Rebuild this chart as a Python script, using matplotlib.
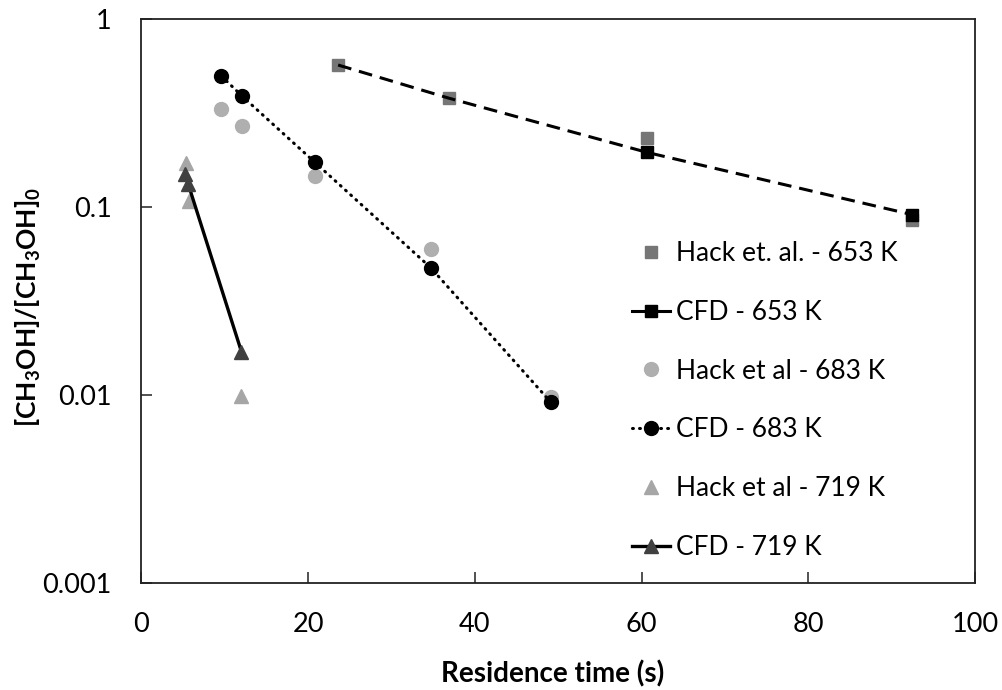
import matplotlib
matplotlib.use("Agg")
import matplotlib.pyplot as plt
from matplotlib.lines import Line2D

plt.rcParams['font.family'] = ['Lato', 'DejaVu Sans']
plt.rcParams['mathtext.fontset'] = 'custom'
plt.rcParams['mathtext.rm'] = 'Lato'
plt.rcParams['mathtext.bf'] = 'Lato:bold'

# Data
hack653_t = [23.6, 36.9, 60.7, 92.5]
hack653_c = [0.569, 0.379, 0.232, 0.0850]
cfd653_t = [23.6, 36.9, 60.7, 92.5]
cfd653_c = [0.569, 0.379, 0.195, 0.0910]

hack683_t = [9.6, 12.1, 20.8, 34.7, 49.1]
hack683_c = [0.331, 0.269, 0.146, 0.0601, 0.00976]
cfd683_t = [9.6, 12.1, 20.8, 34.7, 49.1]
cfd683_c = [0.497, 0.388, 0.173, 0.0476, 0.00918]

hack719_t = [5.3, 5.7, 12.0]
hack719_c = [0.171, 0.108, 0.0099]
cfd719_t = [5.2, 5.6, 12.0]
cfd719_c = [0.149, 0.133, 0.0170]

labels = ["Hack et. al. - 653 K", "CFD - 653 K", "Hack et al - 683 K",
          "CFD - 683 K", "Hack et al - 719 K", "CFD - 719 K"]
xticks = [0, 20, 40, 60, 80, 100]
yticks = [0.001, 0.01, 0.1, 1]
yticklabels = ["0.001", "0.01", "0.1", "1"]

fig = plt.figure(figsize=(10.03, 6.9), dpi=100)
ax = fig.add_axes([0.141, 0.155, 0.831, 0.8175])

h1, = ax.plot(hack653_t, hack653_c, ls='none', marker='s', ms=9, color='#767676', zorder=3)
h2, = ax.plot(cfd653_t, cfd653_c, ls=(0, (4.5, 2.6)), lw=2.2, marker='s', ms=9,
              color='black', markevery=[2, 3], zorder=4)
h3, = ax.plot(hack683_t, hack683_c, ls='none', marker='o', ms=10, color='#AFAFAF', zorder=3)
h4, = ax.plot(cfd683_t, cfd683_c, ls=(0, (0.3, 2.0)), lw=2.2, dash_capstyle='round',
              marker='o', ms=10, color='black', zorder=4)
h5, = ax.plot(hack719_t, hack719_c, ls='none', marker='^', ms=10, color='#A6A6A6', zorder=3)
h6, = ax.plot(cfd719_t, cfd719_c, ls='-', lw=2.4, marker='^', ms=10, color='black',
              mfc='#404040', mec='#404040', zorder=4)

ax.set_yscale('log')
ax.set_xlim(0, 100)
ax.set_ylim(0.001, 1)
ax.set_xticks(xticks)
ax.set_xticklabels([str(t) for t in xticks])
ax.set_yticks(yticks)
ax.set_yticklabels(yticklabels)
ax.minorticks_off()
ax.tick_params(axis='both', direction='in', length=8, width=1.2, labelsize=19.5,
               color='#333333', labelcolor='black')
ax.tick_params(axis='x', pad=21)
ax.tick_params(axis='y', pad=21.5)
for s in ax.spines.values():
    s.set_linewidth(1.3)
    s.set_color('#222222')

ax.set_xlabel("Residence time (s)", fontsize=20, fontweight='bold')
ax.xaxis.set_label_coords(0.493, -0.161)
ax.xaxis.label.set_va('center')
ax.set_ylabel(r"$\mathbf{[CH_3OH]/[CH_3OH]_0}$", fontsize=19)
ax.yaxis.set_label_coords(-0.136, 0.489)
ax.yaxis.label.set_va('center')

proxy2 = Line2D([], [], ls='-', lw=2.2, marker='s', ms=9, color='black')
leg = ax.legend([h1, proxy2, h3, h4, h5, h6], labels, loc='upper left',
                bbox_to_anchor=(632 / 1003, 1 - 241 / 690), bbox_transform=fig.transFigure,
                frameon=False, fontsize=19, handlelength=1.44, handletextpad=0.23,
                labelspacing=1.28, borderaxespad=0, borderpad=0, numpoints=1)

fig.savefig("out.png", dpi=100)
